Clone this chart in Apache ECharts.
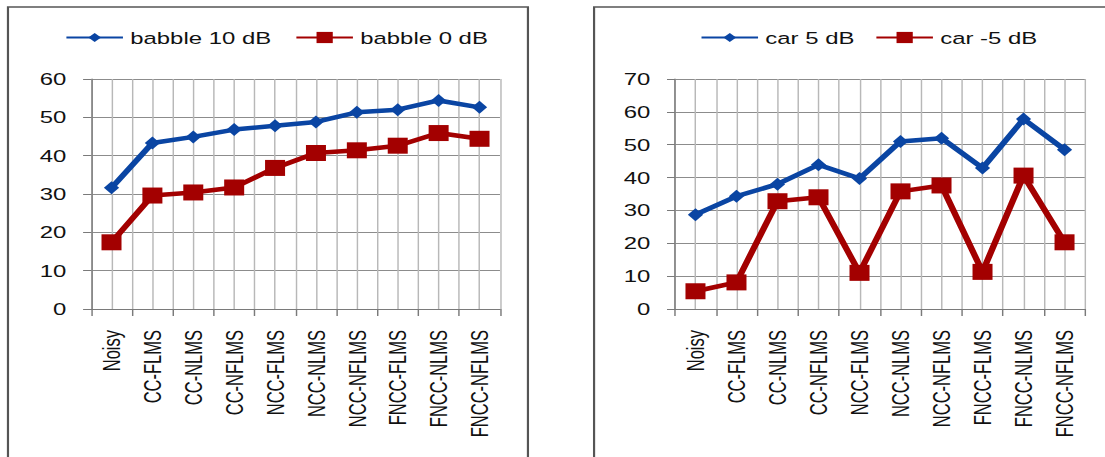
<!DOCTYPE html>
<html>
<head>
<meta charset="utf-8">
<script src="https://cdn.jsdelivr.net/npm/echarts@6/dist/echarts.min.js"></script>
<style>
  html, body { margin: 0; padding: 0; background: #fff; overflow: hidden; }
  #wrap { width: 1105px; height: 457px; overflow: hidden; }
  #chart { width: 762px; height: 457px; transform: scaleX(1.45); transform-origin: 0 0; }
</style>
</head>
<body>
<div id="wrap"><div id="chart"></div></div>
<script>
const categories = ['Noisy','CC-FLMS','CC-NLMS','CC-NFLMS','NCC-FLMS','NCC-NLMS','NCC-NFLMS','FNCC-FLMS','FNCC-NLMS','FNCC-NFLMS'];
const babble10 = [31.6, 43.3, 44.9, 46.8, 47.8, 48.8, 51.3, 52.0, 54.4, 52.6];
const babble0  = [17.4, 29.6, 30.4, 31.7, 36.8, 40.7, 41.4, 42.6, 45.9, 44.4];
const car5     = [28.7, 34.3, 38.0, 43.9, 39.7, 51.0, 52.0, 42.9, 57.8, 48.5];
const carM5    = [5.4, 8.1, 32.8, 34.0, 11.0, 35.8, 37.6, 11.3, 40.6, 20.3];
const leftTicks = { min: 0, max: 60, interval: 10 };
const rightTicks = { min: 0, max: 70, interval: 10 };

const BLUE = '#0a45a3';
const RED = '#a30000';
const FONT = 'Liberation Sans';
const TXT = '#111';

function catAxis(gi) {
  return {
    type: 'category', gridIndex: gi, data: categories, boundaryGap: true,
    axisLine: { show: true, lineStyle: { color: '#7a7a7a', width: 1 } },
    axisTick: { show: true, length: 7, interval: 0, lineStyle: { color: '#7a7a7a' } },
    axisLabel: { rotate: 90, interval: 0, margin: 21, fontSize: 16.5, fontFamily: FONT, color: TXT },
    splitLine: { show: false }
  };
}
function halfAxis(gi) {
  return {
    type: 'value', gridIndex: gi, min: 0, max: categories.length * 2, interval: 1, position: 'top',
    axisLine: { show: false }, axisTick: { show: false }, axisLabel: { show: false },
    splitLine: { show: true, lineStyle: { color: '#b8b8b8', width: 1 } }
  };
}
function valAxis(gi, t) {
  return {
    type: 'value', gridIndex: gi, min: t.min, max: t.max, interval: t.interval,
    axisLine: { show: true, lineStyle: { color: '#7a7a7a', width: 1 } },
    axisTick: { show: true, length: 5.5, lineStyle: { color: '#7a7a7a' } },
    axisLabel: { margin: 17, fontSize: 16.5, fontFamily: FONT, color: TXT },
    splitLine: { show: true, lineStyle: { color: '#8c8c8c', width: 1 } }
  };
}
function lineSeries(name, data, xi, yi, color, symbol, size) {
  return {
    name, type: 'line', data, xAxisIndex: xi, yAxisIndex: yi,
    symbol, symbolSize: size, showAllSymbol: true,
    lineStyle: { color, width: 4.5 }, itemStyle: { color },
    emphasis: { disabled: true }, animation: false, z: symbol === 'rect' ? 3 : 4
  };
}
function legend(name, left, h) {
  return {
    data: [name], left, top: 38 - 9, padding: 0, itemWidth: 39, itemHeight: h,
    textStyle: { fontSize: 16.5, fontFamily: FONT, color: TXT }, selectedMode: false
  };
}

const chart = echarts.init(document.getElementById('chart'), null, { renderer: 'svg' });
chart.setOption({
  backgroundColor: '#fff',
  animation: false,
  graphic: [
    { type: 'rect', shape: { x: 5.5, y: 7, width: 358.6, height: 480 }, style: { fill: 'none', stroke: '#555', lineWidth: 1.5 }, silent: true },
    { type: 'rect', shape: { x: 409.7, y: 7, width: 400, height: 480 }, style: { fill: 'none', stroke: '#555', lineWidth: 1.5 }, silent: true }
  ],
  legend: [
    legend('babble 10 dB', 44.8, 11),
    legend('babble 0 dB', 203.4, 14),
    legend('car 5 dB', 482.8, 11),
    legend('car -5 dB', 603.4, 14)
  ],
  grid: [
    { left: 62.8, right: 762 - 344.8, top: 79, bottom: 457 - 309, containLabel: false },
    { left: 465.5, right: 762 - 748.3, top: 79, bottom: 457 - 309, containLabel: false }
  ],
  xAxis: [catAxis(0), halfAxis(0), catAxis(1), halfAxis(1)],
  yAxis: [valAxis(0, leftTicks), valAxis(1, rightTicks)],
  series: [
    lineSeries('babble 10 dB', babble10, 0, 0, BLUE, 'diamond', [10.5, 13]),
    lineSeries('babble 0 dB', babble0, 0, 0, RED, 'rect', [13.8, 16]),
    lineSeries('car 5 dB', car5, 2, 1, BLUE, 'diamond', [10.5, 13]),
    lineSeries('car -5 dB', carM5, 2, 1, RED, 'rect', [13.8, 16])
  ]
});
</script>
</body>
</html>
